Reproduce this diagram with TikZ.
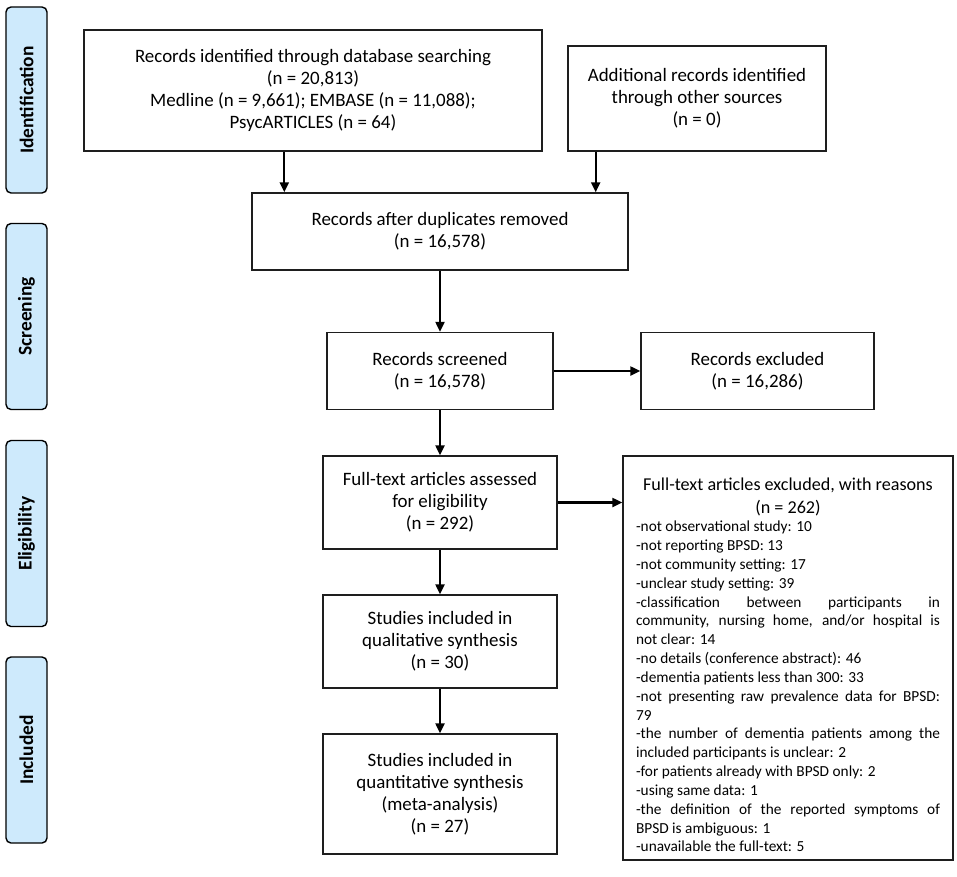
\documentclass[tikz,border=0pt]{standalone}
\usepackage{fontspec}
\setmainfont{Carlito}
\usetikzlibrary{arrows.meta}
\definecolor{phaseblue}{RGB}{206,234,252}
\definecolor{lineblack}{RGB}{30,30,30}
\newcommand{\jl}[1]{\makebox[\linewidth][s]{#1}}
\begin{document}
\begin{tikzpicture}[x=1bp,y=-1bp,
  box/.style={draw=lineblack, line width=1.4bp, rectangle, align=center, inner sep=0pt,
    font=\fontsize{19}{22}\selectfont},
  phase/.style={draw=black, line width=1.4bp, fill=phaseblue, rounded corners=5bp,
    minimum width=41bp, minimum height=186bp, inner sep=0pt,
    font=\fontsize{19.5}{20}\selectfont\bfseries},
  arr/.style={-{Triangle[length=10bp,width=9bp]}, line width=2.2bp, draw=black}]
\useasboundingbox (0,0) rectangle (957,877);

% phase labels
\node[phase] (P1) at (26.5,100) {\rotatebox{90}{Identification}};
\node[phase] (P2) at (26.5,316.5) {\rotatebox{90}{Screening}};
\node[phase] (P3) at (26.5,533.5) {\rotatebox{90}{Eligibility}};
\node[phase] (P4) at (26.5,750) {\rotatebox{90}{Included}};

% boxes
\node[box, minimum width=458bp, minimum height=121bp] (A) at (313,90.5)
  {Records identified through database searching\\(n = 20,813)\\Medline (n = 9,661); EMBASE (n = 11,088);\\PsycARTICLES (n = 64)};
\node[box, minimum width=258bp, minimum height=105bp] (B) at (697,98.5)
  {Additional records identified\\through other sources\\(n = 0)};
\node[box, minimum width=376bp, minimum height=77bp] (C) at (440,231.5)
  {Records after duplicates removed\\(n = 16,578)};
\node[box, minimum width=226bp, minimum height=77bp] (D) at (440,371)
  {Records screened\\(n = 16,578)};
\node[box, minimum width=233bp, minimum height=77bp] (E) at (757.5,371)
  {Records excluded\\(n = 16,286)};
\node[box, minimum width=234bp, minimum height=93bp] (F) at (440,502.5)
  {Full-text articles assessed\\for eligibility\\(n = 292)};
\node[box, minimum width=234bp, minimum height=93bp] (H) at (440,641.5)
  {Studies included in\\qualitative synthesis\\(n = 30)};
\node[box, minimum width=234bp, minimum height=120bp] (I) at (440,794)
  {Studies included in\\quantitative synthesis\\(meta-analysis)\\(n = 27)};
\node[box, minimum width=330bp, minimum height=404bp] (G) at (788,658) {};
\node[anchor=north, inner sep=0pt] (Gt) at ([yshift=-22bp]G.north) {%
  \begin{minipage}{304bp}
  {\fontsize{18.2}{23}\selectfont\centering Full-text articles excluded, with reasons\\(n = 262)\par}
  \vspace{0bp}
  {\fontsize{15.4}{18.9}\selectfont\noindent
  -not observational study: 10\\
  -not reporting BPSD: 13\\
  -not community setting: 17\\
  -unclear study setting: 39\\
  \jl{-classification between participants in}\\
  \jl{community, nursing home, and/or hospital is}\\
  not clear: 14\\
  -no details (conference abstract): 46\\
  -dementia patients less than 300: 33\\
  \jl{-not presenting raw prevalence data for BPSD:}\\
  79\\
  \jl{-the number of dementia patients among the}\\
  included participants is unclear: 2\\
  -for patients already with BPSD only: 2\\
  -using same data: 1\\
  \jl{-the definition of the reported symptoms of}\\
  BPSD is ambiguous: 1\\
  -unavailable the full-text: 5\par}
  \end{minipage}};

% connectors
\coordinate (c1) at ([xshift=33bp]C.north west);
\coordinate (c2) at ([xshift=-33bp]C.north east);
\draw[arr] (A.south -| c1) -- (c1);
\draw[arr] (B.south -| c2) -- (c2);
\draw[arr] (C) -- (D);
\draw[arr] (D) -- (E);
\draw[arr] (D) -- (F);
\draw[arr] (F) -- (F.east -| G.west);
\draw[arr] (F) -- (H);
\draw[arr] (H) -- (I);
\end{tikzpicture}
\end{document}
